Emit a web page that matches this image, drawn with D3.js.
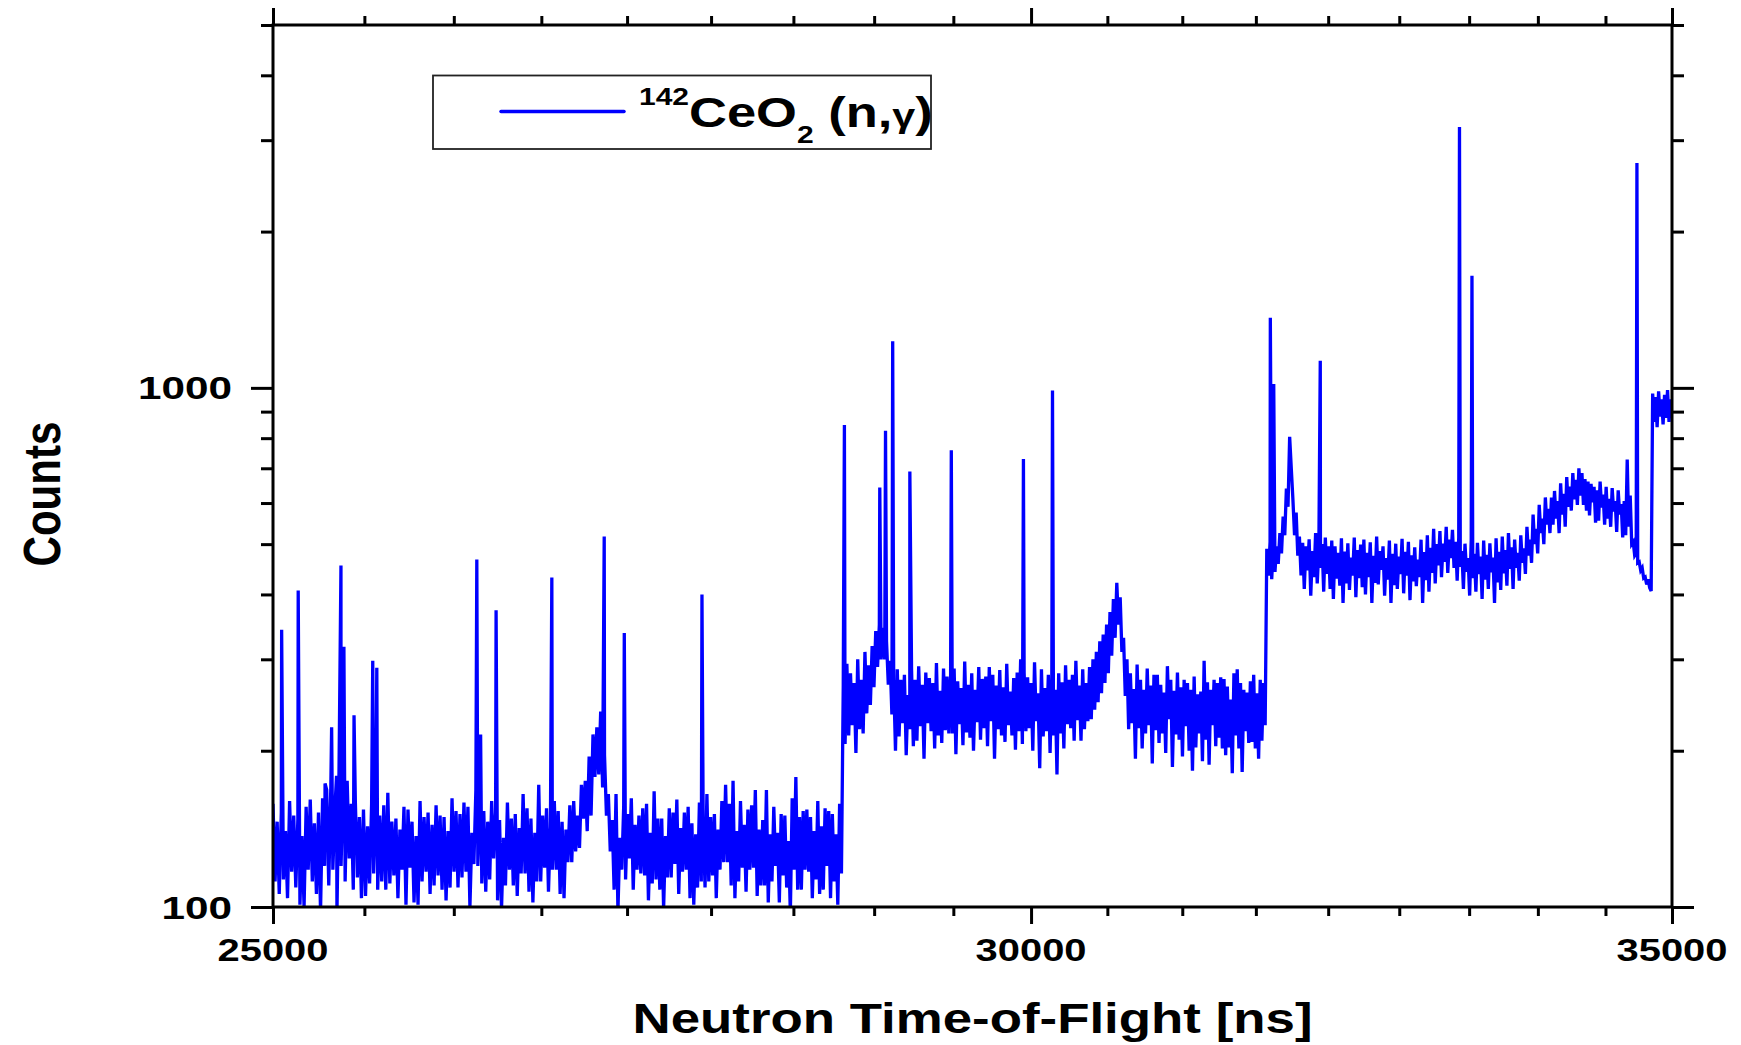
<!DOCTYPE html>
<html>
<head>
<meta charset="utf-8">
<script src="https://cdn.jsdelivr.net/npm/d3@7"></script>
<style>
  body { margin: 0; background: #fff; }
  svg text { font-family: "Liberation Sans", Arial, sans-serif; font-weight: bold; fill: #000; }
</style>
</head>
<body>
<div id="chart"></div>
<script>
// counts per 12.5 ns channel
const channelWidth = 12.5;

// 25000 .. 28662.5 ns, low background
const lowStart = 25000;
const lowCounts = [
  158, 112, 146, 106, 152, 113, 140, 104, 160, 117, 150, 109, 148, 101, 137, 100, 156, 118, 161, 112,
  145, 106, 152, 98, 162, 120, 168, 110, 170, 118, 155, 97, 182, 120, 173, 112, 175, 124, 158, 108,
  160, 114, 149, 104, 154, 105, 143, 111, 158, 116, 151, 108, 150, 112, 157, 108, 166, 111, 146, 115,
  148, 104, 141, 118, 156, 101, 154, 119, 146, 102, 137, 101, 160, 112, 149, 117, 152, 106, 144, 110,
  157, 115, 150, 108, 149, 103, 140, 109, 162, 117, 153, 109, 151, 114, 159, 117, 156, 100, 139, 121,
  168, 120, 156, 111, 153, 107, 146, 113, 160, 124, 152, 103, 147, 99, 136, 110, 159, 118, 148, 110,
  151, 105, 142, 116, 165, 116, 155, 107, 148, 102, 139, 112, 172, 112, 150, 119, 155, 107, 143, 118,
  160, 118, 153, 106, 146, 104, 141, 122, 157, 122, 160, 128, 150, 130, 172, 148, 175, 140, 195, 150,
  215, 178, 222, 180, 238, 170, 196, 150, 165, 128, 147, 108, 165, 98, 136, 118, 156, 113, 151, 124,
  162, 108, 144, 118, 150, 116, 155, 115, 158, 103, 139, 111, 167, 113, 148, 108, 148, 99, 137, 114,
  155, 114, 152, 121, 161, 106, 142, 117, 152, 118, 156, 104, 145, 101, 138, 109, 159, 112, 147, 109,
  165, 112, 149, 115, 151, 104, 141, 118, 160, 122, 172, 122, 158, 110, 175, 104, 140, 112, 160, 119,
  144, 107, 154, 118, 157, 119, 168, 105, 141, 110, 147, 110, 168, 102, 138, 112, 156, 120, 139, 102,
  151, 115, 150, 109, 134, 97, 162, 118, 178, 108, 149, 108, 153, 118, 154, 117, 149, 104, 140, 113,
  160, 106, 143, 108, 155, 120, 153, 104, 151, 112, 138, 101, 158, 116
];

// 28675 .. 31737.5 ns
const midStart = 28675;
const midCounts = [
  267, 206, 294, 214, 282, 224, 270, 198, 300, 220, 274, 216, 310, 236, 292, 245, 318, 265, 340, 290,
  350, 300, 345, 300, 325, 268, 298, 235, 274, 200, 287, 213, 274, 226, 280, 196, 256, 220, 287, 204,
  274, 209, 291, 223, 268, 193, 283, 226, 276, 218, 270, 202, 295, 214, 261, 207, 288, 219, 278, 216,
  278, 216, 288, 197, 272, 225, 264, 205, 297, 217, 268, 212, 282, 200, 262, 227, 290, 210, 275, 221,
  278, 204, 290, 228, 280, 193, 267, 220, 286, 214, 265, 208, 294, 224, 260, 214, 276, 201, 283, 218,
  300, 206, 283, 218, 277, 221, 270, 200, 296, 228, 258, 185, 287, 213, 264, 218, 280, 198, 274, 214,
  262, 180, 282, 216, 271, 202, 292, 225, 274, 221, 280, 209, 298, 229, 267, 209, 287, 220, 270, 228,
  290, 230, 300, 240, 310, 248, 325, 258, 335, 270, 350, 282, 370, 305, 392, 330, 421, 350, 395, 310,
  330, 255, 300, 220, 282, 226, 263, 193, 293, 221, 274, 202, 262, 216, 288, 224, 267, 189, 280, 219,
  280, 207, 268, 216, 259, 198, 291, 230, 274, 186, 261, 215, 283, 210, 265, 195, 274, 223, 270, 200,
  262, 183, 278, 203, 257, 216, 260, 191, 298, 210, 271, 188, 262, 224, 274, 204, 270, 212, 277, 202,
  275, 196, 266, 203, 251, 181, 282, 214, 287, 202, 270, 182, 262, 218, 259, 207, 272, 208, 280, 202,
  258, 193, 274, 209, 270, 224
];

// 31750 .. 34825 ns
const highStart = 31750;
const highCounts = [
  490, 435, 505, 428, 493, 442, 495, 458, 525, 480, 565, 520, 640, 590, 805, 700, 610, 520, 575, 475,
  517, 435, 503, 410, 495, 445, 511, 398, 485, 432, 525, 420, 491, 450, 500, 405, 515, 438, 495, 410,
  508, 392, 495, 429, 481, 416, 513, 385, 484, 420, 502, 408, 471, 435, 515, 395, 487, 430, 499, 413,
  510, 400, 481, 432, 504, 385, 475, 421, 517, 418, 485, 446, 495, 398, 470, 427, 508, 385, 479, 417,
  501, 410, 473, 438, 512, 402, 483, 435, 505, 390, 476, 424, 493, 415, 467, 432, 510, 385, 483, 426,
  520, 405, 492, 440, 535, 420, 500, 455, 530, 432, 501, 462, 540, 440, 510, 470, 533, 450, 505, 425,
  515, 452, 485, 410, 501, 442, 470, 398, 510, 430, 479, 405, 503, 438, 473, 392, 508, 427, 477, 410,
  502, 441, 471, 385, 513, 422, 483, 408, 517, 439, 487, 416, 525, 448, 493, 410, 510, 450, 481, 425,
  520, 460, 491, 438, 540, 475, 510, 460, 570, 500, 535, 480, 595, 525, 560, 500, 615, 545, 585, 525,
  615, 545, 633, 560, 605, 525, 655, 570, 625, 540, 673, 590, 645, 580, 685, 610, 665, 595, 700, 620,
  685, 595, 667, 580, 660, 568, 653, 602, 645, 550, 635, 555, 660, 588, 623, 545, 645, 560, 611, 540,
  641, 578, 605, 528, 635, 570, 597, 515, 605, 520, 728, 540, 620, 500, 505, 475, 480, 460, 462, 445,
  450, 430, 432, 418, 428, 412, 406
];

// 34837.5 .. 35000 ns
const topStart = 34837.5;
const topCounts = [975, 860, 960, 840, 985, 880, 950, 850, 970, 875, 990, 860, 950, 900];

// narrow resonances [time-of-flight ns, counts]
const peaks = [
  [25052, 342], [25152, 407], [25315, 173], [25355, 222], [25385, 179],
  [25412, 455], [25430, 317], [25492, 234], [25607, 298], [25632, 289],
  [26256, 467], [26280, 215], [26378, 373], [26734, 431], [27073, 517],
  [27204, 337], [27717, 400],
  [28683, 848], [28928, 643], [28968, 827], [29018, 1230], [29138, 690],
  [29430, 758], [29945, 729], [30155, 988],
  [31777, 1365], [31803, 1017], [32161, 1128], [33256, 3180], [33356, 1644],
  [34706, 2710]
];

const xMajorTicks = [25000, 30000, 35000];
const yMajorTicks = [100, 1000];
const yMinorTicks = [200, 300, 400, 500, 600, 700, 800, 900, 2000, 3000, 4000, 5000];

const width = 1741;
const height = 1045;
const margin = { top: 25, right: 69, bottom: 138, left: 273 };
const innerWidth = width - margin.left - margin.right;
const innerHeight = height - margin.top - margin.bottom;

const svg = d3.select("#chart")
    .append("svg")
    .attr("width", width)
    .attr("height", height);

const chart = svg.append("g")
    .attr("transform", `translate(${margin.left}, ${margin.top})`);

const xScale = d3.scaleLog()
    .domain([25000, 35000])
    .range([0, innerWidth]);

const yScale = d3.scaleLog()
    .domain([100, 5000])
    .range([innerHeight, 0]);

// channels of each region + the peaks, in time order
const regions = [
    [lowStart, lowCounts],
    [midStart, midCounts],
    [highStart, highCounts],
    [topStart, topCounts]
];
let series = [];
regions.forEach(([start, counts]) => {
    counts.forEach((c, i) => series.push([start + i * channelWidth, c]));
});
series = series.concat(peaks).sort((a, b) => a[0] - b[0]);

chart.append("clipPath")
    .attr("id", "plot-clip")
    .append("rect")
    .attr("width", innerWidth)
    .attr("height", innerHeight);

const line = d3.line()
    .x(d => xScale(d[0]))
    .y(d => yScale(d[1]));

chart.append("path")
    .datum(series)
    .attr("clip-path", "url(#plot-clip)")
    .attr("fill", "none")
    .attr("stroke", "#0000ff")
    .attr("stroke-width", 3.3)
    .attr("d", line);

// minor x ticks: 8 between each pair of majors
const xMinorTicks = [];
for (let j = 1; j < xMajorTicks.length; j++) {
    const a = xMajorTicks[j - 1], b = xMajorTicks[j];
    for (let k = 1; k < 9; k++) xMinorTicks.push(a + k * (b - a) / 9);
}

function tickAxis(axis, ticks, size) {
    return axis.tickValues(ticks).tickSize(size).tickSizeOuter(0).tickFormat("");
}

const axes = [
    [d3.axisBottom(xScale), xMajorTicks, 17, `translate(0, ${innerHeight})`],
    [d3.axisBottom(xScale), xMinorTicks, 9, `translate(0, ${innerHeight})`],
    [d3.axisTop(xScale), xMajorTicks, 17, null],
    [d3.axisTop(xScale), xMinorTicks, 9, null],
    [d3.axisLeft(yScale), yMajorTicks, 22, null],
    [d3.axisLeft(yScale), yMinorTicks, 12, null],
    [d3.axisRight(yScale), yMajorTicks, 22, `translate(${innerWidth}, 0)`],
    [d3.axisRight(yScale), yMinorTicks, 12, `translate(${innerWidth}, 0)`]
];

axes.forEach(([axis, ticks, size, tr]) => {
    const g = chart.append("g").call(tickAxis(axis, ticks, size));
    if (tr) g.attr("transform", tr);
    g.select(".domain").remove();
    g.selectAll(".tick text").remove();
    g.selectAll(".tick line")
        .attr("stroke", "#000")
        .attr("stroke-width", 3);
});

chart.append("rect")
    .attr("width", innerWidth)
    .attr("height", innerHeight)
    .attr("fill", "none")
    .attr("stroke", "#000")
    .attr("stroke-width", 3);

// tick labels; the original text is drawn wide, so glyphs are stretched
svg.selectAll(".x-label")
    .data(xMajorTicks)
    .enter()
    .append("text")
    .attr("class", "x-label")
    .attr("x", d => margin.left + xScale(d))
    .attr("y", margin.top + innerHeight + 54)
    .attr("textLength", d => String(d).length * 22.2)
    .attr("lengthAdjust", "spacingAndGlyphs")
    .style("font-size", "32px")
    .style("text-anchor", "middle")
    .text(d => d);

svg.selectAll(".y-label")
    .data(yMajorTicks)
    .enter()
    .append("text")
    .attr("class", "y-label")
    .attr("x", margin.left - 41)
    .attr("y", d => margin.top + yScale(d) + 11.5)
    .attr("textLength", d => String(d).length * 23.5)
    .attr("lengthAdjust", "spacingAndGlyphs")
    .style("font-size", "32px")
    .style("text-anchor", "end")
    .text(d => d);

svg.append("text")
    .attr("x", margin.left + innerWidth / 2)
    .attr("y", margin.top + innerHeight + 126)
    .attr("textLength", 680)
    .attr("lengthAdjust", "spacingAndGlyphs")
    .style("font-size", "43px")
    .style("text-anchor", "middle")
    .text("Neutron Time-of-Flight [ns]");

svg.append("text")
    .attr("x", 60)
    .attr("y", 494)
    .attr("transform", "rotate(-90, 60, 494)")
    .attr("textLength", 145)
    .attr("lengthAdjust", "spacingAndGlyphs")
    .style("font-size", "52px")
    .style("text-anchor", "middle")
    .text("Counts");

// legend
const legend = chart.append("g")
    .attr("transform", "translate(160, 50.5)");

legend.append("rect")
    .attr("width", 498)
    .attr("height", 73.5)
    .attr("fill", "#fff")
    .attr("stroke", "#222")
    .attr("stroke-width", 1.8);

legend.append("line")
    .attr("x1", 68)
    .attr("x2", 191)
    .attr("y1", 36)
    .attr("y2", 36)
    .attr("stroke", "#0000ff")
    .attr("stroke-width", 3.5)
    .attr("stroke-linecap", "round");

const sx = 1.25;
const label = svg.append("text")
    .attr("transform", `scale(${sx}, 1)`)
    .attr("x", 639 / sx)
    .attr("y", 127)
    .style("font-size", "42px");

label.append("tspan").attr("dy", -22).style("font-size", "24px").text("142");
label.append("tspan").attr("dy", 22).text("CeO");
label.append("tspan").attr("dy", 16).style("font-size", "24px").text("2");
label.append("tspan").attr("dy", -16).text(" (n,");
label.append("tspan").style("font-size", "33px").text("\u03b3");
label.append("tspan").text(")");
</script>
</body>
</html>
